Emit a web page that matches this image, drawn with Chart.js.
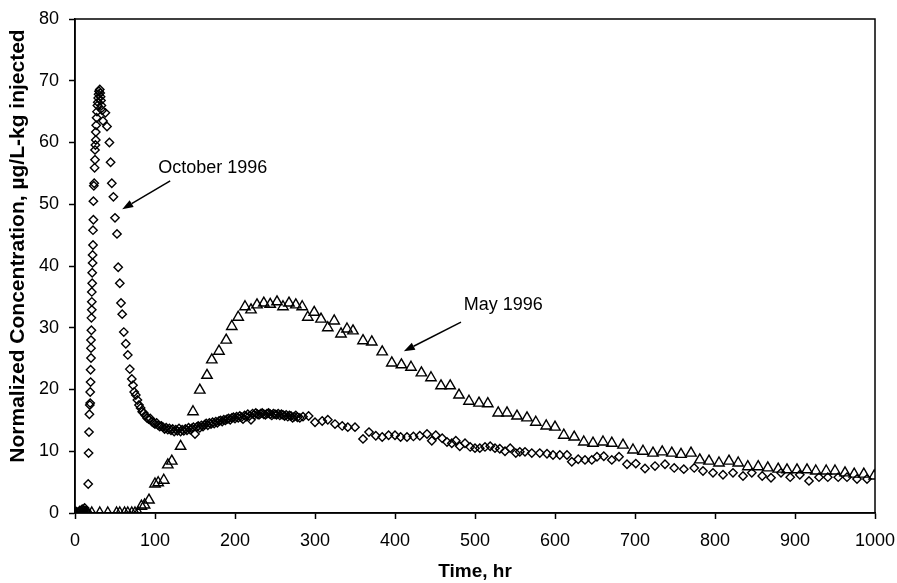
<!DOCTYPE html>
<html>
<head>
<meta charset="utf-8">
<script src="https://cdn.jsdelivr.net/npm/chart.js@4.4.0/dist/chart.umd.min.js"></script>
<style>
  html, body { margin: 0; padding: 0; background: #fff; }
  #wrap { width: 897px; height: 583px; }
</style>
</head>
<body>
<div id="wrap"><canvas id="chart" width="897" height="583"></canvas></div>
<script>
// October 1996 tracer test (diamonds)
const octTime = [
    0, 2, 4, 6, 8, 9, 10, 11, 12, 13, 14, 15,
    16.5, 17, 17.5, 18, 18.5, 19, 19, 19.5, 19.5, 20, 20, 20, 20.5, 20.5, 21, 21, 21, 21.5, 21.5, 22, 22, 22.5, 22.5,
    23, 23, 23.5, 24, 24.5, 25, 25, 25.5, 26, 26, 26.5, 27, 27.5, 28, 28.5, 29, 29.5, 30, 31, 31.5, 32, 32.5, 33, 34, 35,
    38, 40, 43, 44.5, 46, 48, 50, 52.5, 54, 56, 57.5, 59, 61, 63.5, 66, 68.5, 71, 72.5, 74, 76, 78, 80,
    82, 84, 86, 88, 90, 92, 94, 96, 98, 100, 102, 104, 106, 108, 110, 112, 114, 116, 118, 120,
    122, 124, 126, 128, 130, 132, 134, 136, 138, 140, 142, 144, 146, 148, 150, 152, 154, 156, 158, 160,
    162, 164, 166, 168, 170, 172, 174, 176, 178, 180, 182, 184, 186, 188, 190, 192, 194, 196, 198, 200,
    202, 204, 206, 208, 210, 212, 214, 216, 218, 220, 222, 224, 226, 228, 230, 232, 234, 236, 238, 240,
    242, 244, 246, 248, 250, 252, 254, 256, 258, 260, 262, 264, 266, 268, 270, 272, 274, 276, 278, 281, 285,
    292, 300, 309, 316, 325, 334, 341, 350, 360, 367.5, 376, 384, 392, 400, 407, 415, 423, 431, 440,
    446, 451, 459, 465, 471, 476, 481, 487.5, 494, 500, 506, 512.5, 519, 525, 531, 537.5, 544, 551, 556, 562.5,
    571, 581, 590, 597.5, 606, 615, 621, 629, 637.5, 646, 652.5, 661, 671, 680, 690, 701, 712.5, 725, 737.5, 749,
    761, 774, 785, 797.5, 810, 822.5, 835, 846, 859, 870, 882.5, 894, 906, 917.5, 930, 941, 954, 965, 977.5, 990
]
const octConc = [
    0, 0.2, 0.1, 0.4, 0.3, 0.6, 0.2, 0.5, 0.8, 0.3, 0.4, 0.2,
    4.7, 9.7, 13.1, 16, 17.5, 17.8, 19.6, 21.2, 23.2, 25.1, 26.7, 28, 29.6, 31.6, 32.9, 34.2, 35.8, 37.2, 38.9, 40.5, 41.8, 43.4, 45.8,
    47.5, 50.5, 53, 53.4, 55.9, 57.2, 58.8, 59.6, 60.4, 61.7, 62.8, 64, 65, 66, 66.5, 67.2, 67.8, 68.3, 68.6, 68, 67.4, 66.8, 66, 65.2, 63.5,
    64.8, 62.6, 60, 56.8, 53.4, 51.2, 47.8, 45.2, 39.8, 37.2, 34, 32.2, 29.3, 27.4, 25.6, 23.3, 21.7, 20.7, 19.6, 19.1, 18.3, 17.5,
    17, 16.4, 16.2, 15.8, 15.4, 15.2, 15.3, 14.8, 14.6, 14.4, 14.6, 14.2, 14, 14.1, 13.9, 13.6, 13.8, 13.5, 13.7, 13.4,
    13.6, 13.2, 13.5, 13.3, 13.7, 13.2, 13.5, 13.3, 13.6, 13.4, 13.8, 13.5, 13.7, 13.9, 12.8, 13.9, 14.1, 13.8, 14.2, 14,
    14.3, 14.5, 14.2, 14.6, 14.4, 14.7, 14.5, 14.8, 14.6, 14.9, 15, 14.8, 15.1, 15, 15.2, 15.3, 15.1, 15.4, 15.5, 15.3,
    15.6, 15.4, 15.7, 15.5, 15.2, 15.8, 15.6, 16, 15.7, 15.1, 16.1, 15.9, 16.2, 16, 15.9, 16.1, 16.2, 16, 15.9, 16.1,
    16.2, 16, 15.8, 16.1, 16, 15.9, 16.1, 15.8, 16, 15.9, 15.7, 15.9, 15.6, 15.8, 15.7, 15.4, 15.6, 15.8, 15.5, 15.4, 15.6,
    15.7, 14.7, 14.9, 15.1, 14.4, 14.1, 13.9, 13.9, 12.0, 13.1, 12.5, 12.3, 12.6, 12.6, 12.3, 12.3, 12.4, 12.5, 12.8,
    11.7, 12.6, 12.1, 11.5, 11.3, 11.7, 10.8, 11.3, 10.7, 10.5, 10.5, 10.7, 10.8, 10.5, 10.4, 10.0, 10.5, 9.7, 9.9, 9.9,
    9.7, 9.7, 9.6, 9.4, 9.4, 9.4, 8.3, 8.7, 8.6, 8.6, 9.1, 9.2, 8.6, 9.1, 7.9, 8.0, 7.2, 7.6, 7.9, 7.3,
    7.1, 7.3, 6.8, 6.5, 6.2, 6.5, 6.0, 6.5, 6.0, 5.7, 6.5, 5.8, 6.2, 5.2, 5.8, 5.8, 5.8, 5.8, 5.5, 5.5
]

// May 1996 tracer test (triangles)
const mayTime = [
    0, 12, 21, 31, 41, 52, 56, 62, 66, 71, 75, 79, 83, 87, 92.5, 100, 104, 111, 116, 121, 132,
    147.5, 156, 165, 171, 180, 189, 196, 204, 212.5, 220, 227.5, 236, 244, 252.5, 260, 267.5, 276, 284, 291,
    299, 307.5, 316, 324, 332.5, 340, 347.5, 360, 371, 384, 396, 408, 420, 433, 445, 457.5, 469, 480, 492.5, 505,
    516, 529, 540, 552.5, 565, 576, 589, 600, 611, 624, 636, 647.5, 660, 671, 685, 697.5, 710, 722.5, 734, 746,
    757.5, 770, 781, 792.5, 805, 817.5, 829, 841, 854, 866, 879, 890, 902.5, 915, 926, 939, 950, 962.5, 974, 986, 999
]
const mayConc = [
    0, 0, 0, 0, 0, 0, 0, 0, 0, 0, 0, 0, 1.1, 1.3, 2.1, 4.7, 4.9, 5.3, 7.8, 8.4, 10.8,
    16.4, 19.9, 22.3, 24.8, 26.2, 28, 30.2, 31.7, 33.4, 32.9, 33.7, 34, 33.8, 34.2, 33.4, 34, 33.7, 33.4, 31.7,
    32.5, 31.4, 30, 31.1, 29, 29.8, 29.5, 27.9, 27.7, 26.1, 24.3, 24, 23.6, 22.7, 21.9, 20.6, 20.6, 19.1, 18.1, 17.8,
    17.7, 16.2, 16.2, 15.7, 15.4, 14.7, 14.1, 13.9, 12.6, 12.3, 11.5, 11.3, 11.5, 11.3, 11.0, 10.2, 10.0, 9.7, 9.9, 9.7,
    9.5, 9.7, 8.6, 8.4, 8.1, 8.4, 8.1, 7.5, 7.5, 7.3, 7.1, 7.0, 7.0, 7.0, 6.8, 6.8, 6.8, 6.5, 6.3, 6.3, 6.0
]

const xTicks = [0, 100, 200, 300, 400, 500, 600, 700, 800, 900, 1000]
const yTicks = [0, 10, 20, 30, 40, 50, 60, 70, 80]
const yTitle = "Normalized Concentration, µg/L-kg injected"

// labels with arrows, in data units: text spot, arrow tail, arrow head
const notes = [
    { text: "October 1996", at: [104, 55.9], from: [119, 53.8], to: [59, 49.2] },
    { text: "May 1996", at: [486, 33.7], from: [482.5, 30.9], to: [411, 26.2] }
]

const FONT = "'Liberation Sans', Arial, sans-serif"

const toPoints = (xs, ys) => xs.map((x, i) => ({ x: x, y: ys[i] }))

const framePlugin = {
    id: "frame",
    beforeDatasetsDraw(chart) {
        const a = chart.chartArea
        const ctx = chart.ctx
        ctx.save()
        ctx.strokeStyle = "#000"
        ctx.lineWidth = 1.5
        ctx.strokeRect(a.left, a.top, a.right - a.left, a.bottom - a.top)

        // y axis title, sits a bit above the middle of the axis like the original
        ctx.translate(18, 246)
        ctx.rotate(-Math.PI / 2)
        ctx.fillStyle = "#000"
        ctx.font = "bold 21px " + FONT
        ctx.textAlign = "center"
        ctx.textBaseline = "middle"
        ctx.fillText(yTitle, 0, 0)
        ctx.restore()
    }
}

const notesPlugin = {
    id: "notes",
    afterDatasetsDraw(chart) {
        const xs = chart.scales.x, ys = chart.scales.y
        const ctx = chart.ctx
        ctx.save()
        notes.forEach(n => {
            ctx.fillStyle = "#000"
            ctx.font = "18px " + FONT
            ctx.textAlign = "left"
            ctx.textBaseline = "middle"
            ctx.fillText(n.text, xs.getPixelForValue(n.at[0]), ys.getPixelForValue(n.at[1]))

            const x1 = xs.getPixelForValue(n.from[0]), y1 = ys.getPixelForValue(n.from[1])
            const x2 = xs.getPixelForValue(n.to[0]), y2 = ys.getPixelForValue(n.to[1])
            const ang = Math.atan2(y2 - y1, x2 - x1)
            const len = 11, half = 4
            const bx = x2 - len * Math.cos(ang), by = y2 - len * Math.sin(ang)
            ctx.strokeStyle = "#000"
            ctx.lineWidth = 1.5
            ctx.beginPath()
            ctx.moveTo(x1, y1)
            ctx.lineTo(bx, by)
            ctx.stroke()
            ctx.beginPath()
            ctx.moveTo(x2, y2)
            ctx.lineTo(bx + half * Math.sin(ang), by - half * Math.cos(ang))
            ctx.lineTo(bx - half * Math.sin(ang), by + half * Math.cos(ang))
            ctx.closePath()
            ctx.fill()
        })
        ctx.restore()
    }
}

const config = {
    type: "scatter",
    data: {
        datasets: [
            {
                label: "October 1996",
                data: toPoints(octTime, octConc),
                pointStyle: "rectRot",
                pointRadius: 4.2,
                pointHoverRadius: 4.2,
                borderColor: "#000",
                backgroundColor: "rgba(255,255,255,0)",
                borderWidth: 1.4,
                showLine: false
            },
            {
                label: "May 1996",
                data: toPoints(mayTime, mayConc),
                pointStyle: "triangle",
                pointRadius: 6,
                pointHoverRadius: 6,
                borderColor: "#000",
                backgroundColor: "rgba(255,255,255,0)",
                borderWidth: 1.4,
                showLine: false
            }
        ]
    },
    options: {
        responsive: false,
        animation: false,
        events: [],
        layout: { padding: { top: 19, right: 22, left: 0, bottom: 0 } },
        plugins: {
            legend: { display: false },
            tooltip: { enabled: false }
        },
        scales: {
            x: {
                type: "linear",
                position: "bottom",
                min: 0,
                max: 1000,
                afterBuildTicks: s => { s.ticks = xTicks.map(v => ({ value: v })) },
                afterFit: s => {
                    s.height = 70
                    s.paddingLeft = 0
                    s.paddingRight = 0
                },
                grid: { drawOnChartArea: false, color: "#000", tickLength: 6, tickWidth: 1.5 },
                border: { color: "#000", width: 1.5 },
                ticks: { color: "#000", font: { family: FONT, size: 18 }, padding: 11, maxRotation: 0, callback: v => String(v) },
                title: { display: true, text: "Time, hr", color: "#000", font: { family: FONT, size: 19, weight: "bold" }, padding: { top: 2, bottom: 0 } }
            },
            y: {
                type: "linear",
                min: 0,
                max: 80,
                afterBuildTicks: s => { s.ticks = yTicks.map(v => ({ value: v })) },
                afterFit: s => {
                    s.width = 75
                    s.paddingTop = 0
                    s.paddingBottom = 0
                },
                grid: { drawOnChartArea: false, color: "#000", tickLength: 6, tickWidth: 1.5 },
                border: { color: "#000", width: 1.5 },
                ticks: { color: "#000", font: { family: FONT, size: 18 }, padding: 10, callback: v => String(v) }
            }
        }
    },
    plugins: [framePlugin, notesPlugin]
}

const myChart = new Chart(document.getElementById("chart"), config)
</script>
</body>
</html>
